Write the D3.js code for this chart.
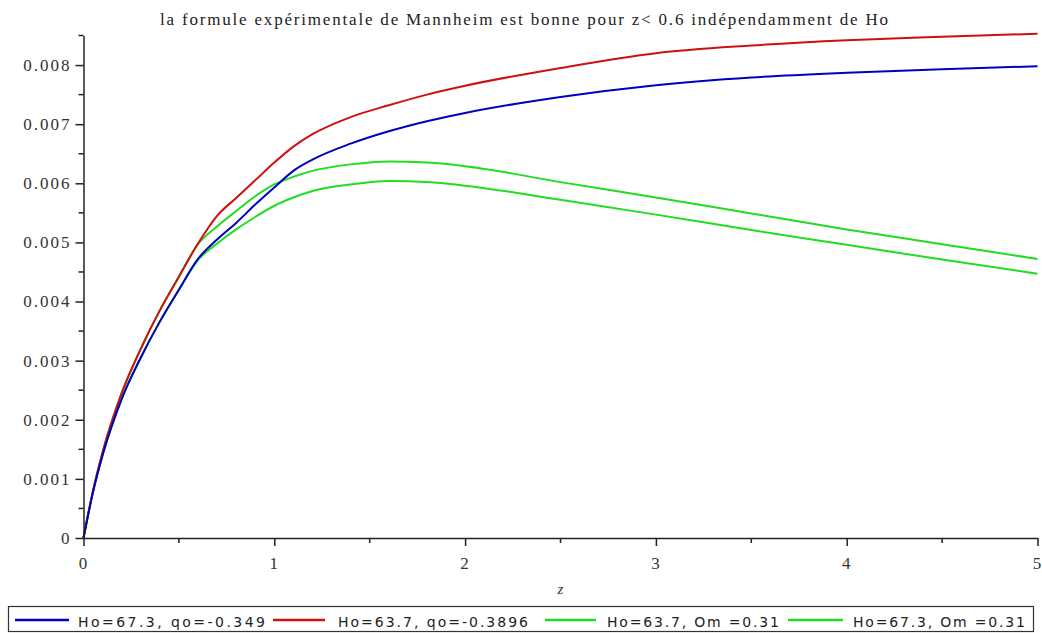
<!DOCTYPE html>
<html>
<head>
<meta charset="utf-8">
<script src="https://cdn.jsdelivr.net/npm/d3@7"></script>
<style>
  body { margin: 0; background: #fff; }
  svg { display: block; }
  .tick text { font-family: 'Liberation Serif', serif; font-size: 17px; letter-spacing: 2px; fill: #333; }
</style>
</head>
<body>
<div id="chart"></div>
<script>
// Data
const zValues = [0, 0.05, 0.1, 0.2, 0.3, 0.4, 0.5, 0.6, 0.7, 0.8, 0.9, 1.0, 1.1, 1.2, 1.4, 1.6, 1.8, 2.0, 2.5, 3.0, 3.5, 4.0, 4.5, 5.0]
const blueVals = [0, 0.00078, 0.0014, 0.00235, 0.00305, 0.00366, 0.0042, 0.00472, 0.00505, 0.00533, 0.00564, 0.00593, 0.00621, 0.0064, 0.00667, 0.00688, 0.00705, 0.00719, 0.00746, 0.00766, 0.00779, 0.00787, 0.00793, 0.00798]
const redVals = [0, 0.0008, 0.00145, 0.00245, 0.0032, 0.00385, 0.00442, 0.00498, 0.00545, 0.00575, 0.00605, 0.00635, 0.00662, 0.00683, 0.00712, 0.00732, 0.0075, 0.00765, 0.00795, 0.0082, 0.00833, 0.00842, 0.00848, 0.00853]
const green637Vals = [0, 0.0008, 0.00145, 0.00245, 0.0032, 0.00385, 0.00442, 0.00497, 0.00527, 0.00553, 0.00578, 0.00598, 0.00611, 0.00621, 0.00632, 0.00637, 0.00635, 0.00629, 0.00602, 0.00576, 0.00549, 0.00522, 0.00497, 0.00472]
const green673Vals = [0, 0.00078, 0.0014, 0.00235, 0.00305, 0.00366, 0.0042, 0.0047, 0.00498, 0.00522, 0.00543, 0.00562, 0.00576, 0.00587, 0.00598, 0.00604, 0.00602, 0.00596, 0.00572, 0.00547, 0.00521, 0.00496, 0.00471, 0.00447]

const seriesNames = ['Ho=67.3, qo=-0.349', 'Ho=63.7, qo=-0.3896', 'Ho=63.7, Om =0.31', 'Ho=67.3, Om =0.31']
const seriesColors = ['#0000c0', '#d01010', '#20dd20', '#20dd20']
const xTicks = [0, 1, 2, 3, 4, 5]
const yTicks = [0, 0.001, 0.002, 0.003, 0.004, 0.005, 0.006, 0.007, 0.008]
const xMinor = [0.5, 1.5, 2.5, 3.5, 4.5]
const yMinor = [0.0005, 0.0015, 0.0025, 0.0035, 0.0045, 0.0055, 0.0065, 0.0075, 0.0085]
const title = 'la formule expérimentale de Mannheim est bonne pour z< 0.6 indépendamment de Ho'

// Dimensions
const w = 1042
const h = 633
const margin = { left: 83.5, right: 4.5, top: 35.5, bottom: 95 }

// Math
const x = d3.scaleLinear().domain([0, 5]).range([margin.left, w - margin.right])
const y = d3.scaleLinear().domain([0, 0.0085]).range([h - margin.bottom, margin.top])
const line = d3
  .line()
  .x(d => x(d[0]))
  .y(d => y(d[1]))
  .curve(d3.curveMonotoneX)

const series = [blueVals, redVals, green637Vals, green673Vals].map(vals =>
  zValues.map((z, i) => [z, vals[i]])
)

// Chart
const svg = d3
  .select('#chart')
  .append('svg')
  .attr('width', w)
  .attr('height', h)

svg
  .append('text')
  .attr('x', 524)
  .attr('y', 25)
  .attr('text-anchor', 'middle')
  .attr('font-family', 'Liberation Serif')
  .attr('font-size', '17px')
  .attr('textLength', 728)
  .attr('lengthAdjust', 'spacing')
  .attr('fill', '#222')
  .text(title)

// curves (green first so red/blue sit on top)
const order = [2, 3, 1, 0]
svg
  .selectAll('path.curve')
  .data(order)
  .enter()
  .append('path')
  .attr('class', 'curve')
  .attr('fill', 'none')
  .attr('stroke', i => seriesColors[i])
  .attr('stroke-width', 2)
  .attr('d', i => line(series[i]))

// axes
const xAxis = d3
  .axisBottom(x)
  .tickValues(xTicks)
  .tickFormat(d3.format('d'))
  .tickSize(8)
  .tickSizeOuter(0)
const yAxis = d3
  .axisLeft(y)
  .tickValues(yTicks)
  .tickFormat(d => (d === 0 ? '0' : d3.format('.3f')(d)))
  .tickSize(8)
  .tickSizeOuter(0)

const gx = svg
  .append('g')
  .attr('transform', `translate(0, ${y(0)})`)
  .call(xAxis)
gx.selectAll('line.minor')
  .data(xMinor)
  .enter()
  .append('line')
  .attr('class', 'minor')
  .attr('x1', d => x(d))
  .attr('x2', d => x(d))
  .attr('y1', 0)
  .attr('y2', 5)
  .attr('stroke', '#222')
  .attr('stroke-width', 1.5)

const gy = svg
  .append('g')
  .attr('transform', `translate(${x(0)}, 0)`)
  .call(yAxis)
gy.selectAll('line.minor')
  .data(yMinor)
  .enter()
  .append('line')
  .attr('class', 'minor')
  .attr('y1', d => y(d))
  .attr('y2', d => y(d))
  .attr('x1', 0)
  .attr('x2', -5)
  .attr('stroke', '#222')
  .attr('stroke-width', 1.5)

svg.selectAll('.domain, .tick line').attr('stroke', '#222').attr('stroke-width', 1.5)
gx.selectAll('.tick text').attr('dy', '1.2em')
gy.selectAll('.tick text').attr('x', -12)

svg
  .append('text')
  .attr('x', (x(0) + x(5)) / 2)
  .attr('y', 594)
  .attr('text-anchor', 'middle')
  .attr('font-family', 'Liberation Serif')
  .attr('font-style', 'italic')
  .attr('font-size', '15px')
  .attr('fill', '#333')
  .text('z')

// Legend
const legendItems = [
  { x1: 15, x2: 69, tx: 78, tw: 187 },
  { x1: 273, x2: 325, tx: 338, tw: 190 },
  { x1: 545, x2: 596, tx: 607, tw: 172 },
  { x1: 788, x2: 843, tx: 853, tw: 172 }
]
svg
  .append('rect')
  .attr('x', 8.5)
  .attr('y', 606.5)
  .attr('width', 1025)
  .attr('height', 25)
  .attr('fill', 'none')
  .attr('stroke', '#333')
  .attr('stroke-width', 1.2)

const leg = svg
  .selectAll('g.leg')
  .data(legendItems)
  .enter()
  .append('g')
  .attr('class', 'leg')
leg
  .append('line')
  .attr('x1', d => d.x1)
  .attr('x2', d => d.x2)
  .attr('y1', 620)
  .attr('y2', 620)
  .attr('stroke', (d, i) => seriesColors[i])
  .attr('stroke-width', 2.5)
leg
  .append('text')
  .attr('x', d => d.tx)
  .attr('y', 627)
  .attr('font-family', 'DejaVu Sans')
  .attr('font-size', '14px')
  .attr('textLength', d => d.tw)
  .attr('lengthAdjust', 'spacing')
  .attr('fill', '#222')
  .text((d, i) => seriesNames[i])
</script>
</body>
</html>
